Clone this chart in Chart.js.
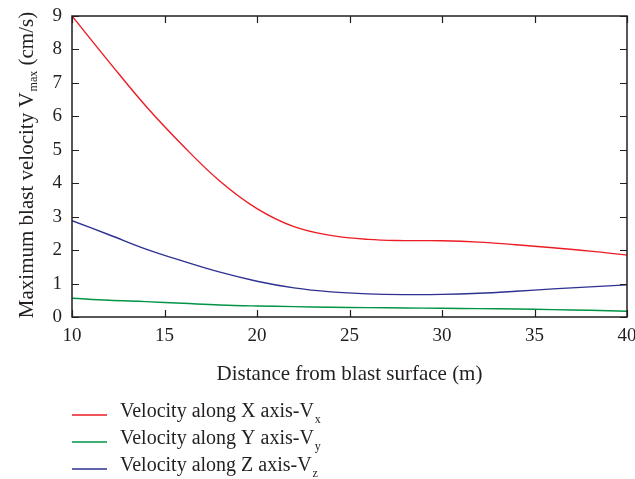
<!DOCTYPE html>
<html><head><meta charset="utf-8">
<script src="https://cdn.jsdelivr.net/npm/chart.js@4.4.1/dist/chart.umd.min.js"></script>
<style>
html,body{margin:0;padding:0;overflow:hidden;background:#fff;width:635px;height:479px}
#wrap{position:relative;width:640px;height:479px}
</style></head>
<body><div id="wrap"><canvas id="c" width="640" height="479"></canvas></div>
<script>
const distances = [10,12,14,16,18,20,22,24,26,28,30,32,34,36,38,40];
const velX = [9.0,7.63,6.3,5.12,4.06,3.24,2.7,2.44,2.32,2.285,2.28,2.24,2.16,2.07,1.97,1.85];
const velY = [0.56,0.5,0.46,0.41,0.36,0.33,0.31,0.29,0.28,0.27,0.26,0.25,0.24,0.22,0.2,0.17];
const velZ = [2.88,2.46,2.03,1.67,1.34,1.07,0.87,0.75,0.69,0.67,0.675,0.71,0.77,0.84,0.9,0.96];
const xTickValues = [10,15,20,25,30,35,40];
const yTickValues = [0,1,2,3,4,5,6,7,8,9];
const seriesLabels = ['Velocity along X axis-V','Velocity along Y axis-V','Velocity along Z axis-V'];
const seriesSubs = ['x','y','z'];
const seriesColors = ['#ed1c24','#009444','#2e3192'];
const yTitleMain = 'Maximum blast velocity V';
const yTitleSub = 'max';
const yTitleEnd = ' (cm/s)';
const xTitle = 'Distance from blast surface (m)';

const FONT = '"Liberation Serif","DejaVu Serif",serif';
const INK = '#231f20';
const series = [velX, velY, velZ];

const decor = {
  id: 'decor',
  afterDraw(chart) {
    const {ctx, chartArea: a, scales} = chart;
    ctx.save();
    ctx.strokeStyle = INK;
    ctx.lineWidth = 1.5;
    ctx.strokeRect(a.left, a.top, a.right - a.left, a.bottom - a.top);
    const tl = 7;
    ctx.lineWidth = 1.2;
    ctx.beginPath();
    xTickValues.forEach(v => {
      const px = Math.round(scales.x.getPixelForValue(v)) + 0.5;
      ctx.moveTo(px, a.bottom); ctx.lineTo(px, a.bottom - tl);
      ctx.moveTo(px, a.top); ctx.lineTo(px, a.top + tl);
    });
    yTickValues.forEach(v => {
      const py = Math.round(scales.y.getPixelForValue(v)) + 0.5;
      ctx.moveTo(a.left, py); ctx.lineTo(a.left + tl, py);
      ctx.moveTo(a.right, py); ctx.lineTo(a.right - tl, py);
    });
    ctx.stroke();

    // y title with subscript
    ctx.fillStyle = INK;
    ctx.textBaseline = 'alphabetic';
    ctx.textAlign = 'left';
    const big = '21px ' + FONT, small = '12px ' + FONT;
    ctx.font = big;
    const w1 = ctx.measureText(yTitleMain).width;
    const w3 = ctx.measureText(yTitleEnd).width;
    ctx.font = small;
    const w2 = ctx.measureText(yTitleSub).width;
    const total = w1 + w2 + w3;
    const cy = (a.top + a.bottom) / 2 - 1;
    ctx.translate(33, cy);
    ctx.rotate(-Math.PI / 2);
    let x0 = -total / 2;
    ctx.font = big; ctx.fillText(yTitleMain, x0, 0);
    ctx.font = small; ctx.fillText(yTitleSub, x0 + w1 + 1, 4);
    ctx.font = big; ctx.fillText(yTitleEnd, x0 + w1 + w2 + 1, 0);
    ctx.restore();

    // legend
    ctx.save();
    const rows = [a.bottom + 100, a.bottom + 127, a.bottom + 154];
    const lf = '20px ' + FONT;
    seriesLabels.forEach((lab, i) => {
      const base = rows[i];
      ctx.strokeStyle = seriesColors[i];
      ctx.lineWidth = 1.4;
      ctx.beginPath();
      ctx.moveTo(a.left, base - 2); ctx.lineTo(a.left + 35, base - 2);
      ctx.stroke();
      ctx.fillStyle = INK;
      ctx.textBaseline = 'alphabetic';
      ctx.font = lf;
      ctx.fillText(lab, a.left + 48, base);
      const lw = ctx.measureText(lab).width;
      ctx.font = small;
      ctx.fillText(seriesSubs[i], a.left + 48 + lw + 1, base + 6);
    });
    ctx.restore();
  }
};

new Chart(document.getElementById('c'), {
  type: 'line',
  data: {
    datasets: series.map((vals, i) => ({
      label: seriesLabels[i] + seriesSubs[i],
      data: distances.map((d, j) => ({x: d, y: vals[j]})),
      borderColor: seriesColors[i],
      borderWidth: 1.4,
      pointRadius: 0,
      tension: 0.4,
      fill: false
    }))
  },
  options: {
    responsive: false,
    animation: false,
    devicePixelRatio: 1,
    layout: {padding: {left: 0, top: 16, right: 13, bottom: 92}},
    plugins: {legend: {display: false}, tooltip: {enabled: false}},
    scales: {
      x: {
        type: 'linear', min: 10, max: 40,
        afterBuildTicks: s => { s.ticks = xTickValues.map(v => ({value: v})); },
        afterFit: s => { s.paddingLeft = 0; s.paddingRight = 0; },
        grid: {display: false, drawTicks: false},
        border: {display: false},
        ticks: {color: INK, padding: 8, font: {family: FONT, size: 19}, maxRotation: 0},
        title: {display: true, text: xTitle, color: INK, font: {family: FONT, size: 21}, padding: {top: 6, bottom: 0}}
      },
      y: {
        type: 'linear', min: 0, max: 9,
        afterBuildTicks: s => { s.ticks = yTickValues.map(v => ({value: v})); },
        afterFit: s => { s.width = 72; s.paddingTop = 0; s.paddingBottom = 0; },
        grid: {display: false, drawTicks: false},
        border: {display: false},
        ticks: {color: INK, padding: 10, font: {family: FONT, size: 19}}
      }
    }
  },
  plugins: [decor]
});
</script>
</body></html>
